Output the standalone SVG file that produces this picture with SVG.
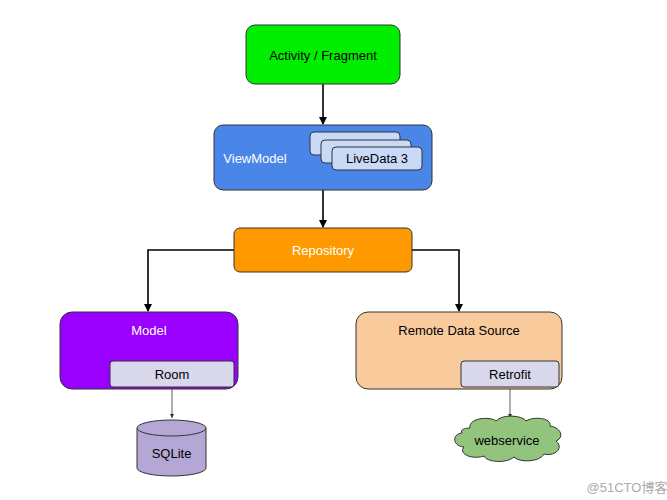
<svg xmlns="http://www.w3.org/2000/svg" width="667" height="500" viewBox="0 0 667 500">
<style>
text{font-family:"Liberation Sans",Arial,sans-serif;font-size:13px;text-anchor:middle;dominant-baseline:central}
.b{stroke:#333;stroke-width:1}
.c{stroke:#000;stroke-width:1.6;fill:none}
.t{stroke:#333;stroke-width:0.8;fill:none}
.sub{fill:#d9d7ec;stroke:#333;stroke-width:1}
</style>
<defs>
<marker id="a" markerWidth="8" markerHeight="8" refX="7" refY="4" orient="auto" markerUnits="userSpaceOnUse"><path d="M0,0L8,4L0,8z" fill="#000"/></marker>
<marker id="s" markerWidth="4" markerHeight="4" refX="4" refY="2" orient="auto" markerUnits="userSpaceOnUse"><path d="M0,0L4,2L0,4z" fill="#333"/></marker>
</defs>
<rect width="667" height="500" fill="#fff"/>
<g id="connectors">
<path class="c" d="M323,84V124" marker-end="url(#a)"/>
<path class="c" d="M323,190V227" marker-end="url(#a)"/>
<path class="c" d="M234,250H148V311" marker-end="url(#a)"/>
<path class="c" d="M412,250H459V311" marker-end="url(#a)"/>
<path class="t" d="M172,387V418" marker-end="url(#s)"/>
<path class="t" d="M510,387V418" marker-end="url(#s)"/>
</g>
<g id="activity"><rect class="b" x="246" y="25" width="154" height="59" rx="9" fill="#00ee00"/><text x="323" y="55">Activity / Fragment</text></g>
<g id="viewmodel"><rect class="b" x="214" y="125" width="218" height="65" rx="9" fill="#4a86e8"/><text x="255" y="158" fill="#fff">ViewModel</text>
<rect class="sub" x="310" y="132" width="90" height="23" rx="4" style="fill:#c9daf8"/>
<rect class="sub" x="321" y="140" width="90" height="23" rx="4" style="fill:#c9daf8"/>
<rect class="sub" x="332" y="147" width="90" height="23" rx="4" style="fill:#c9daf8"/><text x="377" y="158">LiveData 3</text></g>
<g id="repository"><rect class="b" x="234" y="228" width="178" height="44" rx="6" fill="#ff9900"/><text x="323" y="250" fill="#fff">Repository</text></g>
<g id="model"><rect class="b" x="60" y="312" width="178" height="77" rx="12" fill="#9900ff"/><text x="149" y="330" fill="#fff">Model</text>
<rect class="sub" x="110" y="361" width="124" height="26" rx="3"/><text x="172" y="374">Room</text></g>
<g id="remote"><rect class="b" x="356" y="312" width="206" height="77" rx="12" fill="#f9cb9c"/><text x="459" y="330">Remote Data Source</text>
<rect class="sub" x="461" y="361" width="98" height="26" rx="3"/><text x="510" y="374">Retrofit</text></g>
<g id="sqlite"><path class="b" d="M137,428V468A34.5,8 0 0 0 206,468V428" fill="#b4a7d6"/><ellipse class="b" cx="171.5" cy="428" rx="34.5" ry="8" fill="#b4a7d6"/><text x="171.5" y="453">SQLite</text></g>
<g id="webservice"><path class="b" fill="#93c47d" d="M470,428C468,418 490,416 496,421C502,414 522,415 526,421C534,416 552,418 550,426C562,428 564,438 556,441C564,447 556,457 544,454C540,462 520,463 514,457C506,464 486,462 484,456C472,460 458,454 464,447C452,446 452,434 462,433C460,430 464,428 470,428Z"/><text x="507" y="440" font-size="11">webservice</text></g>
<text x="627" y="487" font-size="11" fill="#aaa" style="font-family:'Liberation Sans','Noto Sans CJK SC',sans-serif">@51CTO博客</text>
</svg>
